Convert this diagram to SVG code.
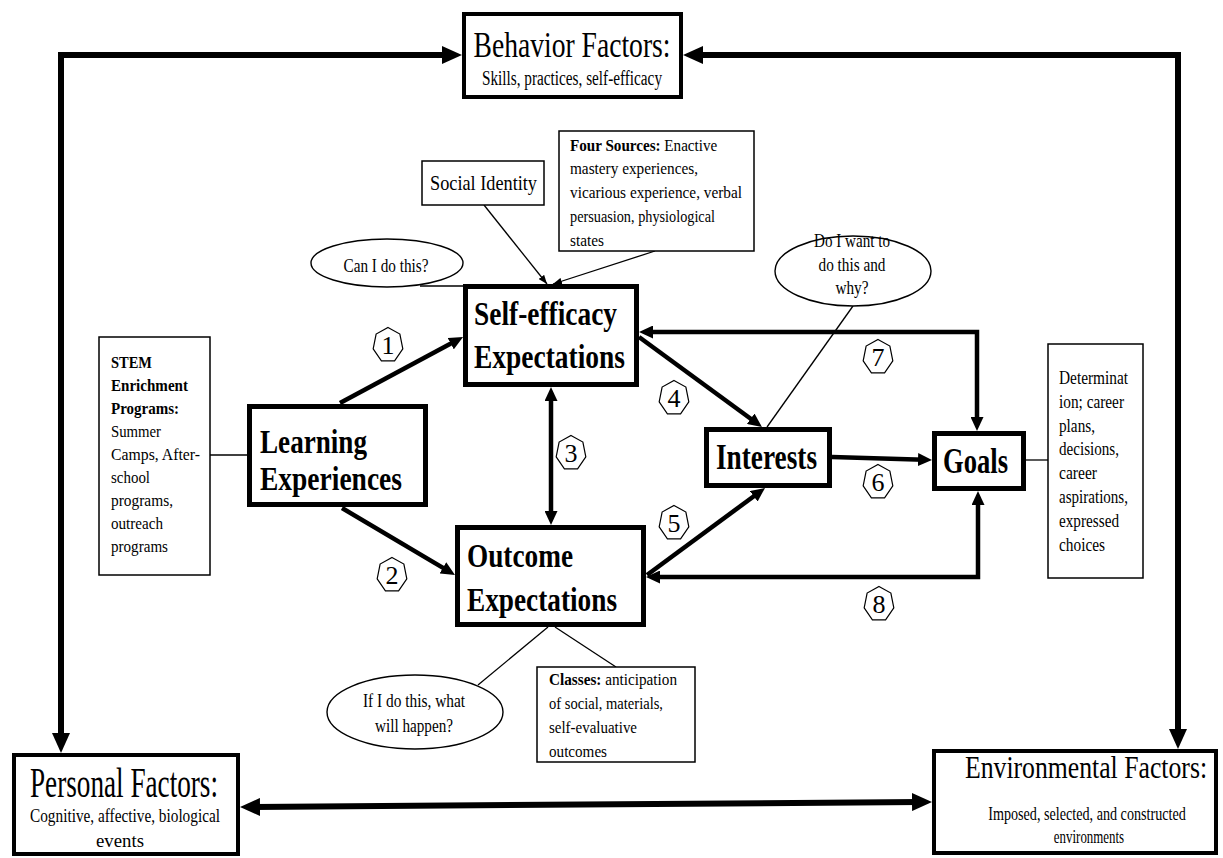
<svg xmlns="http://www.w3.org/2000/svg" width="1223" height="858" viewBox="0 0 1223 858">
  <style>
    text { font-family: "Liberation Serif", "Times New Roman", serif; fill: #000; }
    .b { font-weight: bold; }
    .box-thick { fill: #fff; stroke: #000; stroke-width: 5; }
    .box-factor { fill: #fff; stroke: #000; stroke-width: 4; }
    .box-thin { fill: #fff; stroke: #000; stroke-width: 1.5; }
    .bubble { fill: #fff; stroke: #000; stroke-width: 1.4; }
    .frame { fill: none; stroke: #000; stroke-width: 6; stroke-linejoin: miter; }
    .link { fill: none; stroke: #000; stroke-width: 4.5; stroke-linejoin: miter; }
    .thin { fill: none; stroke: #000; stroke-width: 1.3; }
    .hept { fill: #fff; stroke: #000; stroke-width: 1.2; }
    .num { font-size: 26px; text-anchor: middle; }
  </style>
  <defs>
    <marker id="ah-lg" viewBox="0 0 20 18" markerWidth="20" markerHeight="18" refX="8" refY="9" markerUnits="userSpaceOnUse" orient="auto-start-reverse">
      <path d="M0,0 L20,9 L0,18 z" fill="#000"/>
    </marker>
    <marker id="ah-md" viewBox="0 0 14 13" markerWidth="14" markerHeight="13" refX="6" refY="6.5" markerUnits="userSpaceOnUse" orient="auto-start-reverse">
      <path d="M0,0 L14,6.5 L0,13 z" fill="#000"/>
    </marker>
    <marker id="ah-sm" viewBox="0 0 9 7" markerWidth="9" markerHeight="7" refX="9" refY="3.5" markerUnits="userSpaceOnUse" orient="auto">
      <path d="M0,0 L9,3.5 L0,7 z" fill="#000"/>
    </marker>
    <polygon id="hept" class="hept" points="0,-17.6 11.88,-10.98 14.82,3.92 6.59,15.86 -6.59,15.86 -14.82,3.92 -11.88,-10.98"/>
  </defs>
  <rect width="1223" height="858" fill="#fff"/>

  <!-- connectors -->
  <g id="connectors">
    <!-- outer triadic frame -->
    <path class="frame" d="M61,741 L61,55 L450,55" marker-start="url(#ah-lg)" marker-end="url(#ah-lg)"/>
    <path class="frame" d="M695,55 L1178,55 L1178,737" marker-start="url(#ah-lg)" marker-end="url(#ah-lg)"/>
    <path class="frame" d="M252,807 L920,802" marker-start="url(#ah-lg)" marker-end="url(#ah-lg)"/>
    <!-- model paths -->
    <path class="link" d="M340,403 L456,340.8" marker-end="url(#ah-md)"/>
    <path class="link" d="M342,508 L448.1,570.9" marker-end="url(#ah-md)"/>
    <path class="link" d="M551,395 L551,517" marker-start="url(#ah-md)" marker-end="url(#ah-md)"/>
    <path class="link" d="M639,337 L755.5,422.3" marker-end="url(#ah-md)"/>
    <path class="link" d="M647,575 L758.6,492.7" marker-end="url(#ah-md)"/>
    <path class="link" d="M832,457 L924,459.8" marker-end="url(#ah-md)"/>
    <path class="link" d="M647,332 L977,332 L977,423" marker-start="url(#ah-md)" marker-end="url(#ah-md)"/>
    <path class="link" d="M654,577 L978,577 L978,499" marker-start="url(#ah-md)" marker-end="url(#ah-md)"/>
    <!-- annotation leaders -->
    <path class="thin" d="M484,205 L547,284" marker-end="url(#ah-sm)"/>
    <path class="thin" d="M655,251 L553,284" marker-end="url(#ah-sm)"/>
    <path class="thin" d="M210,455 L247,455"/>
    <path class="thin" d="M420,286 L463,286"/>
    <path class="thin" d="M853,306 L767,427"/>
    <path class="thin" d="M548,627 L478,685"/>
    <path class="thin" d="M555,627 L616,667"/>
    <path class="thin" d="M1026,460 L1048,460"/>
  </g>

  <!-- path numbers -->
  <g id="path-labels">
    <use href="#hept" x="388" y="345"/><text class="num" x="388" y="354">1</text>
    <use href="#hept" x="392" y="575"/><text class="num" x="392" y="584">2</text>
    <use href="#hept" x="571" y="453"/><text class="num" x="571" y="462">3</text>
    <use href="#hept" x="674" y="398"/><text class="num" x="674" y="407">4</text>
    <use href="#hept" x="674" y="523"/><text class="num" x="674" y="532">5</text>
    <use href="#hept" x="878" y="482"/><text class="num" x="878" y="491">6</text>
    <use href="#hept" x="878" y="357"/><text class="num" x="878" y="366">7</text>
    <use href="#hept" x="879" y="604"/><text class="num" x="879" y="613">8</text>
  </g>

  <g id="behavior-factors">
    <rect class="box-factor" x="464" y="14" width="217" height="83"/>
    <text x="572" y="57" font-size="36" text-anchor="middle" textLength="197" lengthAdjust="spacingAndGlyphs">Behavior Factors:</text>
    <text x="572" y="85" font-size="20" text-anchor="middle" textLength="180" lengthAdjust="spacingAndGlyphs">Skills, practices, self-efficacy</text>
  </g>

  <g id="personal-factors">
    <rect class="box-factor" x="14" y="755" width="224" height="99"/>
    <text x="124" y="797" font-size="42" text-anchor="middle" textLength="188" lengthAdjust="spacingAndGlyphs">Personal Factors:</text>
    <text x="125" y="822" font-size="19" text-anchor="middle" textLength="190" lengthAdjust="spacingAndGlyphs">Cognitive, affective, biological</text>
    <text x="120" y="847" font-size="19" text-anchor="middle" textLength="48" lengthAdjust="spacingAndGlyphs">events</text>
  </g>

  <g id="environmental-factors">
    <rect class="box-factor" x="934" y="751" width="282" height="102"/>
    <text transform="translate(1086,778) scale(0.83,1)" font-size="31" text-anchor="middle">Environmental Factors:</text>
    <text transform="translate(1087,820) scale(0.745,1)" font-size="19" text-anchor="middle">Imposed, selected, and constructed</text>
    <text transform="translate(1089,843) scale(0.68,1)" font-size="19" text-anchor="middle">environments</text>
  </g>

  <g id="social-identity">
    <rect class="box-thin" x="422" y="161" width="122" height="44"/>
    <text x="430" y="190" font-size="21" textLength="107" lengthAdjust="spacingAndGlyphs">Social Identity</text>
  </g>

  <g id="four-sources">
    <rect class="box-thin" x="559" y="131" width="195" height="120"/>
    <text transform="translate(570,151) scale(0.89,1)" font-size="17"><tspan class="b">Four Sources:</tspan> Enactive</text>
    <text x="570" y="174" font-size="17" textLength="128" lengthAdjust="spacingAndGlyphs">mastery experiences,</text>
    <text x="570" y="198" font-size="17" textLength="172" lengthAdjust="spacingAndGlyphs">vicarious experience, verbal</text>
    <text x="570" y="222" font-size="17" textLength="145" lengthAdjust="spacingAndGlyphs">persuasion, physiological</text>
    <text x="570" y="246" font-size="17" textLength="34" lengthAdjust="spacingAndGlyphs">states</text>
  </g>

  <g id="can-i-do-this">
    <ellipse class="bubble" cx="387" cy="263" rx="76" ry="24"/>
    <text x="386" y="272" font-size="18" text-anchor="middle" textLength="85" lengthAdjust="spacingAndGlyphs">Can I do this?</text>
  </g>

  <g id="do-i-want">
    <ellipse class="bubble" cx="853" cy="271" rx="78" ry="35"/>
    <text x="852" y="247" font-size="18" text-anchor="middle" textLength="76" lengthAdjust="spacingAndGlyphs">Do I want to</text>
    <text x="852" y="271" font-size="18" text-anchor="middle" textLength="67" lengthAdjust="spacingAndGlyphs">do this and</text>
    <text x="852" y="294" font-size="18" text-anchor="middle" textLength="33" lengthAdjust="spacingAndGlyphs">why?</text>
  </g>

  <g id="self-efficacy">
    <rect class="box-thick" x="465.5" y="286.5" width="171" height="98"/>
    <text class="b" x="474" y="325" font-size="34" textLength="143" lengthAdjust="spacingAndGlyphs">Self-efficacy</text>
    <text class="b" x="474" y="368" font-size="34" textLength="151" lengthAdjust="spacingAndGlyphs">Expectations</text>
  </g>

  <g id="stem-programs">
    <rect class="box-thin" x="99" y="337" width="111" height="238"/>
    <text class="b" x="111" y="368" font-size="17" textLength="41" lengthAdjust="spacingAndGlyphs">STEM</text>
    <text class="b" x="111" y="391" font-size="17" textLength="77" lengthAdjust="spacingAndGlyphs">Enrichment</text>
    <text class="b" x="111" y="414" font-size="17" textLength="68" lengthAdjust="spacingAndGlyphs">Programs:</text>
    <text x="111" y="437" font-size="17" textLength="50" lengthAdjust="spacingAndGlyphs">Summer</text>
    <text x="111" y="460" font-size="17" textLength="89" lengthAdjust="spacingAndGlyphs">Camps, After-</text>
    <text x="111" y="483" font-size="17" textLength="39" lengthAdjust="spacingAndGlyphs">school</text>
    <text x="111" y="506" font-size="17" textLength="62" lengthAdjust="spacingAndGlyphs">programs,</text>
    <text x="111" y="529" font-size="17" textLength="52" lengthAdjust="spacingAndGlyphs">outreach</text>
    <text x="111" y="552" font-size="17" textLength="57" lengthAdjust="spacingAndGlyphs">programs</text>
  </g>

  <g id="learning-experiences">
    <rect class="box-thick" x="249.5" y="406.5" width="176" height="98"/>
    <text class="b" x="260" y="453" font-size="34" textLength="107" lengthAdjust="spacingAndGlyphs">Learning</text>
    <text class="b" x="260" y="490" font-size="34" textLength="142" lengthAdjust="spacingAndGlyphs">Experiences</text>
  </g>

  <g id="outcome-expectations">
    <rect class="box-thick" x="457.5" y="527.5" width="186" height="97"/>
    <text class="b" x="467" y="567" font-size="34" textLength="106" lengthAdjust="spacingAndGlyphs">Outcome</text>
    <text class="b" x="467" y="611" font-size="34" textLength="150" lengthAdjust="spacingAndGlyphs">Expectations</text>
  </g>

  <g id="interests">
    <rect class="box-thick" x="706.5" y="429.5" width="123" height="56"/>
    <text class="b" x="716" y="469" font-size="36" textLength="101" lengthAdjust="spacingAndGlyphs">Interests</text>
  </g>

  <g id="goals">
    <rect class="box-thick" x="934.5" y="433.5" width="89" height="55"/>
    <text class="b" x="943" y="473" font-size="36" textLength="65" lengthAdjust="spacingAndGlyphs">Goals</text>
  </g>

  <g id="goal-details">
    <rect class="box-thin" x="1048" y="344" width="95" height="234"/>
    <text x="1059" y="384" font-size="18" textLength="69" lengthAdjust="spacingAndGlyphs">Determinat</text>
    <text x="1059" y="408" font-size="18" textLength="65" lengthAdjust="spacingAndGlyphs">ion; career</text>
    <text x="1059" y="432" font-size="18" textLength="36" lengthAdjust="spacingAndGlyphs">plans,</text>
    <text x="1059" y="455" font-size="18" textLength="60" lengthAdjust="spacingAndGlyphs">decisions,</text>
    <text x="1059" y="479" font-size="18" textLength="38" lengthAdjust="spacingAndGlyphs">career</text>
    <text x="1059" y="503" font-size="18" textLength="69" lengthAdjust="spacingAndGlyphs">aspirations,</text>
    <text x="1059" y="527" font-size="18" textLength="60" lengthAdjust="spacingAndGlyphs">expressed</text>
    <text x="1059" y="551" font-size="18" textLength="46" lengthAdjust="spacingAndGlyphs">choices</text>
  </g>

  <g id="what-will-happen">
    <ellipse class="bubble" cx="415" cy="712" rx="88" ry="37"/>
    <text x="414" y="707" font-size="18" text-anchor="middle" textLength="102" lengthAdjust="spacingAndGlyphs">If I do this, what</text>
    <text x="414" y="732" font-size="18" text-anchor="middle" textLength="78" lengthAdjust="spacingAndGlyphs">will happen?</text>
  </g>

  <g id="classes">
    <rect class="box-thin" x="537" y="667" width="158" height="95"/>
    <text transform="translate(549,685) scale(0.895,1)" font-size="17"><tspan class="b">Classes:</tspan> anticipation</text>
    <text x="549" y="709" font-size="17" textLength="114" lengthAdjust="spacingAndGlyphs">of social, materials,</text>
    <text x="549" y="733" font-size="17" textLength="88" lengthAdjust="spacingAndGlyphs">self-evaluative</text>
    <text x="549" y="757" font-size="17" textLength="58" lengthAdjust="spacingAndGlyphs">outcomes</text>
  </g>
</svg>
